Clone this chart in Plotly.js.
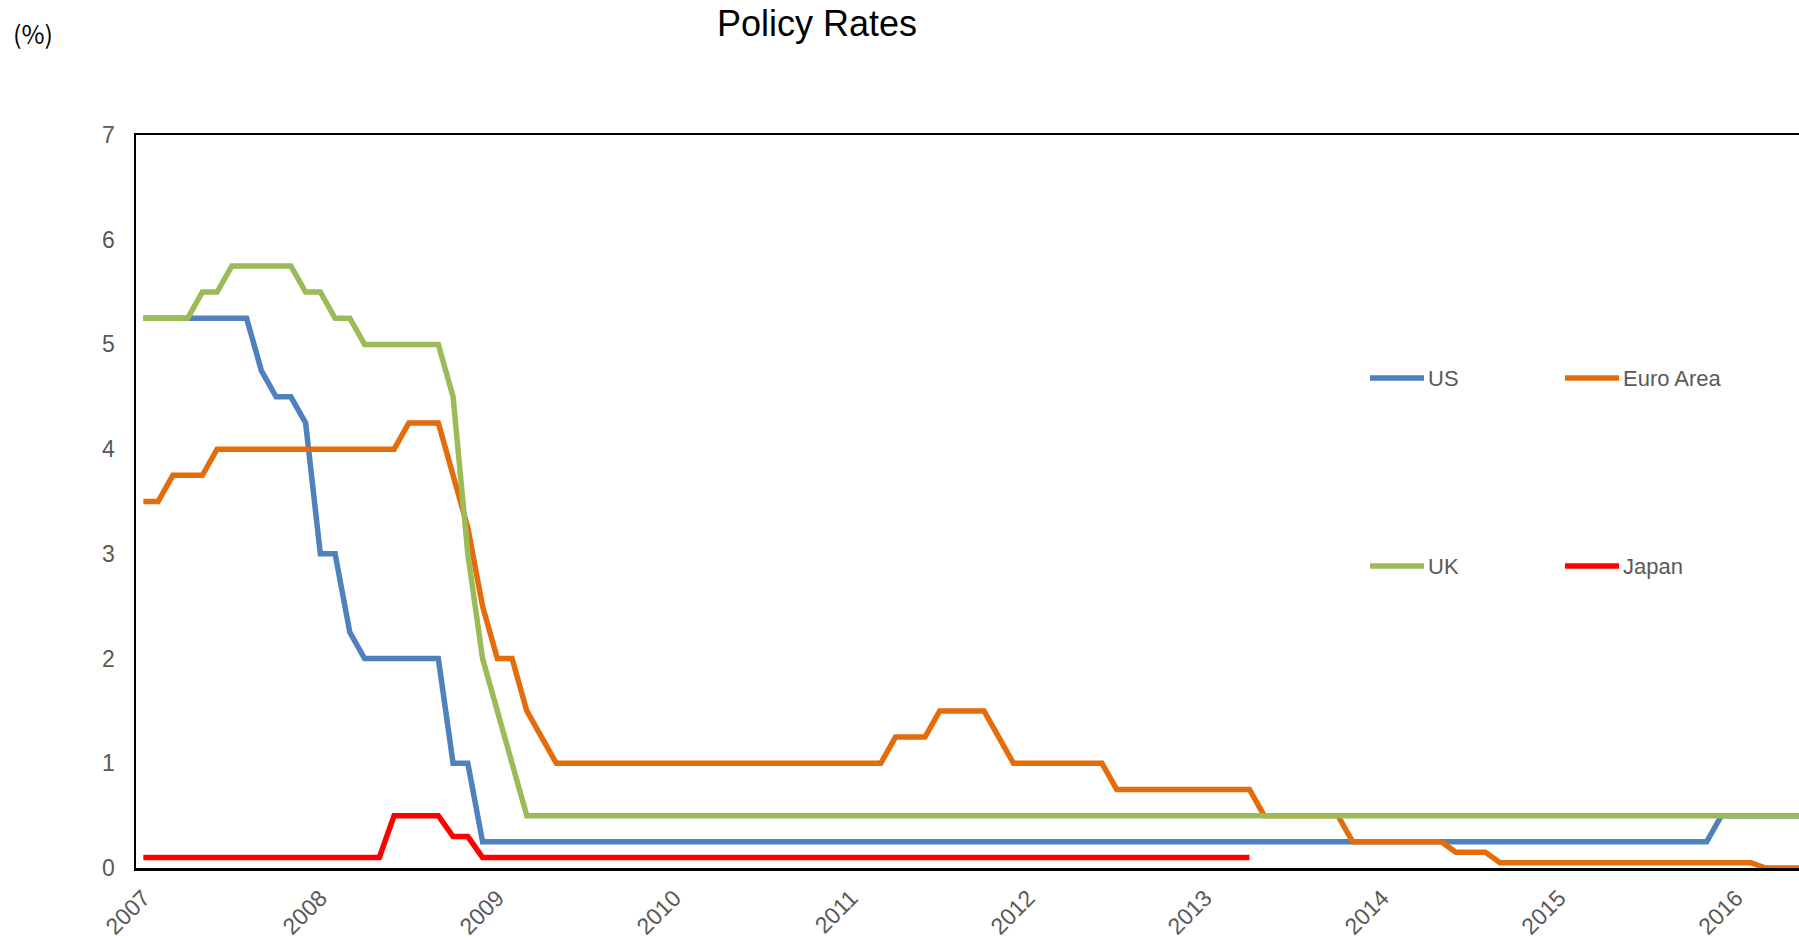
<!DOCTYPE html>
<html>
<head>
<meta charset="utf-8">
<script src="https://cdn.plot.ly/plotly-3.0.1.min.js"></script>
<style>
  html, body { margin: 0; padding: 0; background: #fff; overflow: hidden; }
  #chart { width: 1852px; height: 940px; }
</style>
</head>
<body>
<div id="chart"></div>
<script>
// Monthly policy rates (%), month-end, January 2007 onward
const usRate = [
  5.25, 5.25, 5.25, 5.25, 5.25, 5.25, 5.25, 5.25, 4.75, 4.5, 4.5, 4.25,   // 2007
  3, 3, 2.25, 2, 2, 2, 2, 2, 2, 1, 1, 0.25,                               // 2008
  0.25, 0.25, 0.25, 0.25, 0.25, 0.25, 0.25, 0.25, 0.25, 0.25, 0.25, 0.25, // 2009
  0.25, 0.25, 0.25, 0.25, 0.25, 0.25, 0.25, 0.25, 0.25, 0.25, 0.25, 0.25, // 2010
  0.25, 0.25, 0.25, 0.25, 0.25, 0.25, 0.25, 0.25, 0.25, 0.25, 0.25, 0.25, // 2011
  0.25, 0.25, 0.25, 0.25, 0.25, 0.25, 0.25, 0.25, 0.25, 0.25, 0.25, 0.25, // 2012
  0.25, 0.25, 0.25, 0.25, 0.25, 0.25, 0.25, 0.25, 0.25, 0.25, 0.25, 0.25, // 2013
  0.25, 0.25, 0.25, 0.25, 0.25, 0.25, 0.25, 0.25, 0.25, 0.25, 0.25, 0.25, // 2014
  0.25, 0.25, 0.25, 0.25, 0.25, 0.25, 0.25, 0.25, 0.25, 0.25, 0.25, 0.5,  // 2015
  0.5, 0.5, 0.5, 0.5, 0.5, 0.5, 0.5                                       // 2016
];

const euroRate = [
  3.5, 3.5, 3.75, 3.75, 3.75, 4, 4, 4, 4, 4, 4, 4,                        // 2007
  4, 4, 4, 4, 4, 4, 4.25, 4.25, 4.25, 3.75, 3.25, 2.5,                    // 2008
  2, 2, 1.5, 1.25, 1, 1, 1, 1, 1, 1, 1, 1,                                // 2009
  1, 1, 1, 1, 1, 1, 1, 1, 1, 1, 1, 1,                                     // 2010
  1, 1, 1, 1.25, 1.25, 1.25, 1.5, 1.5, 1.5, 1.5, 1.25, 1,                 // 2011
  1, 1, 1, 1, 1, 1, 0.75, 0.75, 0.75, 0.75, 0.75, 0.75,                   // 2012
  0.75, 0.75, 0.75, 0.75, 0.5, 0.5, 0.5, 0.5, 0.5, 0.5, 0.25, 0.25,       // 2013
  0.25, 0.25, 0.25, 0.25, 0.25, 0.15, 0.15, 0.15, 0.05, 0.05, 0.05, 0.05, // 2014
  0.05, 0.05, 0.05, 0.05, 0.05, 0.05, 0.05, 0.05, 0.05, 0.05, 0.05, 0.05, // 2015
  0.05, 0.05, 0, 0, 0, 0, 0                                               // 2016
];

const ukRate = [
  5.25, 5.25, 5.25, 5.25, 5.5, 5.5, 5.75, 5.75, 5.75, 5.75, 5.75, 5.5,    // 2007
  5.5, 5.25, 5.25, 5, 5, 5, 5, 5, 5, 4.5, 3, 2,                           // 2008
  1.5, 1, 0.5, 0.5, 0.5, 0.5, 0.5, 0.5, 0.5, 0.5, 0.5, 0.5,               // 2009
  0.5, 0.5, 0.5, 0.5, 0.5, 0.5, 0.5, 0.5, 0.5, 0.5, 0.5, 0.5,             // 2010
  0.5, 0.5, 0.5, 0.5, 0.5, 0.5, 0.5, 0.5, 0.5, 0.5, 0.5, 0.5,             // 2011
  0.5, 0.5, 0.5, 0.5, 0.5, 0.5, 0.5, 0.5, 0.5, 0.5, 0.5, 0.5,             // 2012
  0.5, 0.5, 0.5, 0.5, 0.5, 0.5, 0.5, 0.5, 0.5, 0.5, 0.5, 0.5,             // 2013
  0.5, 0.5, 0.5, 0.5, 0.5, 0.5, 0.5, 0.5, 0.5, 0.5, 0.5, 0.5,             // 2014
  0.5, 0.5, 0.5, 0.5, 0.5, 0.5, 0.5, 0.5, 0.5, 0.5, 0.5, 0.5,             // 2015
  0.5, 0.5, 0.5, 0.5, 0.5, 0.5, 0.5                                       // 2016
];

const japanRate = [
  0.1, 0.1, 0.1, 0.1, 0.1, 0.1, 0.1, 0.1, 0.1, 0.1, 0.1, 0.1,             // 2007
  0.1, 0.1, 0.1, 0.1, 0.1, 0.5, 0.5, 0.5, 0.5, 0.3, 0.3, 0.1,             // 2008
  0.1, 0.1, 0.1, 0.1, 0.1, 0.1, 0.1, 0.1, 0.1, 0.1, 0.1, 0.1,             // 2009
  0.1, 0.1, 0.1, 0.1, 0.1, 0.1, 0.1, 0.1, 0.1, 0.1, 0.1, 0.1,             // 2010
  0.1, 0.1, 0.1, 0.1, 0.1, 0.1, 0.1, 0.1, 0.1, 0.1, 0.1, 0.1,             // 2011
  0.1, 0.1, 0.1, 0.1, 0.1, 0.1, 0.1, 0.1, 0.1, 0.1, 0.1, 0.1,             // 2012
  0.1, 0.1, 0.1, 0.1                                                      // 2013
];

const seriesNames = ['US', 'Euro Area', 'UK', 'Japan'];
const seriesColors = ['#4F81BD', '#E46C0A', '#9BBB59', '#FF0000'];
const seriesValues = [usRate, euroRate, ukRate, japanRate];

const yearLabels = ['2007', '2008', '2009', '2010', '2011', '2012', '2013', '2014', '2015', '2016'];

// Month categories "YYYY-MM" for the x axis
const months = [];
yearLabels.forEach(y => {
  for (let m = 1; m <= 12; m++) months.push(y + '-' + String(m).padStart(2, '0'));
});
const nMonths = usRate.length;
const monthAxis = months.slice(0, nMonths);
const yearTicks = yearLabels.map(y => y + '-01');

const LABEL_FONT = '"Liberation Sans", Arial, sans-serif';
const GREY = '#595959';

const traces = seriesValues.map((vals, i) => ({
  type: 'scatter',
  mode: 'lines',
  name: seriesNames[i],
  x: monthAxis.slice(0, vals.length),
  y: vals,
  line: { color: seriesColors[i], width: 5.5 },
  hoverinfo: 'skip'
}));

// Plot box in pixels
const W = 1852, H = 940;
const M = { l: 136, r: 20, t: 135, b: 72 };
const plotW = W - M.l - M.r, plotH = H - M.t - M.b;
const px = x => (x - M.l) / plotW;
const py = y => (H - M.b - y) / plotH;

// Legend: two rows, two columns
const legendCols = [{ x0: 1370, x1: 1424, tx: 1426 }, { x0: 1565, x1: 1619, tx: 1621 }];
const legendRows = [378, 566];
const shapes = [];
const annotations = [];
seriesNames.forEach((name, i) => {
  const c = legendCols[i % 2], r = legendRows[Math.floor(i / 2)];
  shapes.push({
    type: 'line', xref: 'paper', yref: 'paper',
    x0: px(c.x0), x1: px(c.x1), y0: py(r), y1: py(r),
    line: { color: seriesColors[i], width: 5.5 }
  });
  annotations.push({
    xref: 'paper', yref: 'paper', x: px(c.tx), y: py(r),
    xanchor: 'left', yanchor: 'middle', showarrow: false,
    text: name, font: { family: LABEL_FONT, size: 22, color: GREY }
  });
});

// Unit label in the top-left corner
annotations.push({
  xref: 'paper', yref: 'paper', x: px(11), y: py(33),
  xanchor: 'left', yanchor: 'middle', showarrow: false,
  text: '(%)', font: { family: '"Noto Sans CJK JP", sans-serif', size: 25, color: '#000' }
});

const layout = {
  width: W, height: H,
  margin: M,
  paper_bgcolor: '#fff', plot_bgcolor: '#fff',
  showlegend: false,
  title: {
    text: 'Policy Rates',
    font: { family: '"Liberation Sans", Arial, sans-serif', size: 36, color: '#000' },
    xref: 'container', x: 817 / W, xanchor: 'center',
    yref: 'container', y: 1 - 11 / H, yanchor: 'top'
  },
  xaxis: {
    type: 'category',
    range: [-0.5, 114.5],
    tickvals: yearTicks, ticktext: yearLabels,
    tickangle: -45,
    tickfont: { family: LABEL_FONT, size: 23, color: GREY },
    ticks: '', ticklabelshift: 0, ticklabelstandoff: 5,
    showline: true, mirror: true, linecolor: '#000', linewidth: 2.5,
    showgrid: false, zeroline: false
  },
  yaxis: {
    range: [0, 7], tick0: 0, dtick: 1,
    tickfont: { family: LABEL_FONT, size: 23, color: GREY },
    ticks: '', ticklabelstandoff: 14,
    showline: true, mirror: true, linecolor: '#000', linewidth: 2.5,
    showgrid: false, zeroline: false
  },
  shapes: shapes,
  annotations: annotations
};

Plotly.newPlot('chart', traces, layout, { staticPlot: true, displayModeBar: false });
</script>
</body>
</html>
